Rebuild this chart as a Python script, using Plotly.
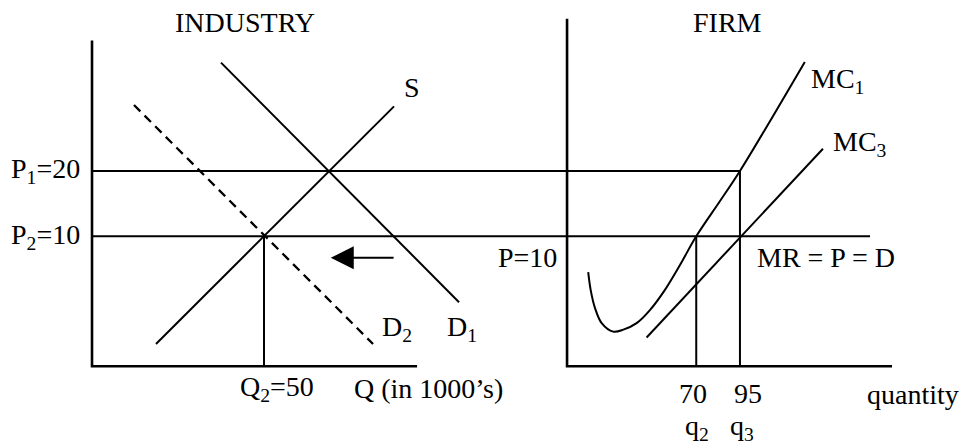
import plotly.graph_objects as go

# --- datos (industria: Q en miles, precio P) ---
P1, P2 = 20, 10
Q2 = 50
S_Q, S_P = [18.6, 87.8], [-6.5, 29.9]
D1_Q, D1_P = [37.5, 106.7], [36.6, -0.1]
D2_Q, D2_P = [12.2, 81.7], [30.1, -6.5]
ARROW_Q, ARROW_P = [88.1, 69.4], [6.7, 6.7]

# --- datos (empresa: cantidad q) ---
q2, q3 = 70, 95
MC1_q = [8.2, 9.6, 12.1, 15.9, 22.5, 28.3, 35.9, 43.5, 52.1, 60.7, 70, 83.6, 95, 132.1]
MC1_P = [4.5, 1.8, -1.0, -3.3, -4.6, -4.3, -3.3, -1.3, 1.8, 5.6, 10, 15.4, 20, 36.7]
MC3_q, MC3_P = [41.6, 142.5], [-5.5, 23.4]

# --- geometría del diagrama (no a escala) ---
P_AXIS = -9.9          # nivel del eje horizontal
IND_TOP, FIRM_TOP = 40.0, 43.3
IND_XEND = 94.5
FIRM_AXIS, FIRM_XEND = -3.9, 182.0
P2_END = 169.4
IND_AXIS_IN_FIRM = -275.7   # posición del eje de la industria en unidades q
IND_RANGE = [-24.42, 255.23]
FIRM_RANGE = [-323.7, 226.6]
P_RANGE = [-21.81, 44.96]

FONT = dict(family='Liberation Serif', size=28, color='black')
LW = 2


def seg(x, y, xa='x', w=LW, dash='solid'):
    return go.Scatter(x=x, y=y, mode='lines', xaxis=xa, yaxis='y', hoverinfo='skip',
                      line=dict(color='black', width=w, dash=dash), showlegend=False)


fig = go.Figure()
# ejes
fig.add_trace(seg([0, 0, IND_XEND], [IND_TOP, P_AXIS, P_AXIS], w=2.6))
fig.add_trace(seg([FIRM_AXIS, FIRM_AXIS, FIRM_XEND], [FIRM_TOP, P_AXIS, P_AXIS], xa='x2', w=2.6))
# precios horizontales (desde el eje de la industria hasta la empresa)
fig.add_trace(seg([IND_AXIS_IN_FIRM, q3], [P1, P1], xa='x2'))
fig.add_trace(seg([IND_AXIS_IN_FIRM, P2_END], [P2, P2], xa='x2'))
# industria
fig.add_trace(seg(S_Q, S_P))
fig.add_trace(seg(D1_Q, D1_P))
fig.add_trace(seg(D2_Q, D2_P, w=2.3, dash='9px,6px'))
fig.add_trace(seg([Q2, Q2], [P2, P_AXIS]))
# empresa
fig.add_trace(go.Scatter(x=MC1_q, y=MC1_P, mode='lines', xaxis='x2', yaxis='y', hoverinfo='skip',
                         line=dict(color='black', width=LW, shape='spline', smoothing=1.0),
                         showlegend=False))
fig.add_trace(seg(MC3_q, MC3_P, xa='x2'))
fig.add_trace(seg([q2, q2], [P2, P_AXIS], xa='x2'))
fig.add_trace(seg([q3, q3], [P1, P_AXIS], xa='x2'))

ann = [
    ('x', 44.5, 42.8, 'INDUSTRY', 'center'),
    ('x2', 87.6, 42.8, 'FIRM', 'center'),
    ('x', -13.4, P1, 'P<sub>1</sub>=20', 'center'),
    ('x', -13.4, P2, 'P<sub>2</sub>=10', 'center'),
    ('x', 93, 32.8, 'S', 'center'),
    ('x', 88.7, -4.1, 'D<sub>2</sub>', 'center'),
    ('x', 107.6, -4.1, 'D<sub>1</sub>', 'center'),
    ('x', 53.8, -13.3, 'Q<sub>2</sub>=50', 'center'),
    ('x', 75.9, -13.3, 'Q (in 1000’s)', 'left'),
    ('x2', -26.3, 6.8, 'P=10', 'center'),
    ('x2', 144.5, 6.8, 'MR = P = D', 'center'),
    ('x2', 135.1, 33.9, 'MC<sub>1</sub>', 'left'),
    ('x2', 147.5, 24.2, 'MC<sub>3</sub>', 'left'),
    ('x2', 68.1, -14.1, '70', 'center'),
    ('x2', 99.6, -14.1, '95', 'center'),
    ('x2', 70.4, -19.3, 'q<sub>2</sub>', 'center'),
    ('x2', 96.2, -19.3, 'q<sub>3</sub>', 'center'),
    ('x2', 194.0, -14.3, 'quantity', 'center'),
]
for xa, x, y, t, anc in ann:
    fig.add_annotation(x=x, y=y, xref=xa, yref='y', text=t, showarrow=False,
                       xanchor=anc, yanchor='middle', font=FONT, borderpad=0)

# flecha de desplazamiento de la demanda
fig.add_annotation(x=ARROW_Q[1], y=ARROW_P[1], ax=ARROW_Q[0], ay=ARROW_P[0],
                   xref='x', yref='y', axref='x', ayref='y', text='', showarrow=True,
                   arrowhead=2, arrowsize=2.3, arrowwidth=2, arrowcolor='black')

hid = dict(visible=False, showgrid=False, zeroline=False, fixedrange=True)
fig.update_layout(
    width=962, height=436, margin=dict(l=0, r=0, t=0, b=0),
    paper_bgcolor='white', plot_bgcolor='white', showlegend=False,
    xaxis=dict(range=IND_RANGE, domain=[0, 1], **hid),
    xaxis2=dict(range=FIRM_RANGE, domain=[0, 1], overlaying='x', **hid),
    yaxis=dict(range=P_RANGE, domain=[0, 1], **hid),
)
fig.write_html('out.html')
